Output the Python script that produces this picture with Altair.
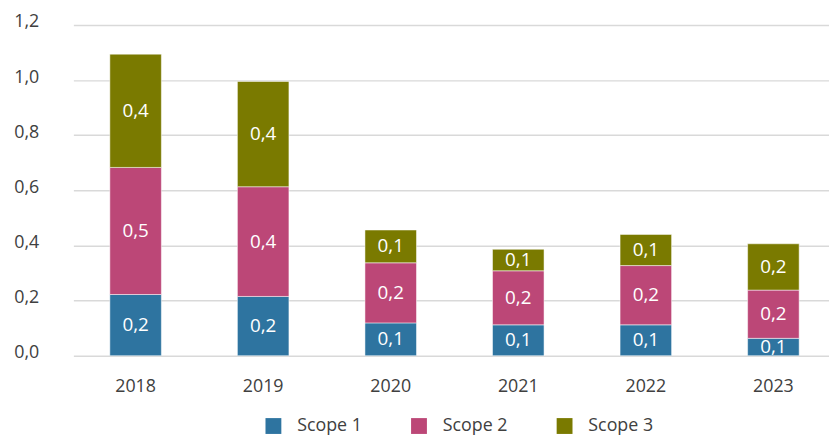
import altair as alt
import pandas as pd

years = ["2018", "2019", "2020", "2021", "2022", "2023"]
series = ["Scope 1", "Scope 2", "Scope 3"]
scope1 = [0.222, 0.215, 0.119, 0.112, 0.112, 0.063]
scope2 = [0.461, 0.398, 0.218, 0.196, 0.215, 0.175]
scope3 = [0.411, 0.382, 0.119, 0.078, 0.113, 0.168]
colors = ["#2E74A0", "#BC4777", "#7A7A00"]
y_ticks = [0.0, 0.2, 0.4, 0.6, 0.8, 1.0, 1.2]

rows = []
for i, y in enumerate(years):
    for k, (name, vals) in enumerate(zip(series, [scope1, scope2, scope3])):
        rows.append({"year": y, "series": name, "value": vals[i], "order": k})
df = pd.DataFrame(rows)

FONT = "Open Sans"

base = alt.Chart(df).transform_stack(
    stack="value", groupby=["year"], as_=["y0", "y1"],
    sort=[alt.SortField("order", order="ascending")]
).transform_calculate(
    mid="(datum.y0 + datum.y1) / 2",
    label="replace(format(datum.value, '.1f'), '.', ',')"
)

x_enc = alt.X("year:N", sort=years, title=None,
              scale=alt.Scale(paddingInner=0.596, paddingOuter=0.26, align=0.55),
              axis=alt.Axis(labelAngle=0, ticks=False, domain=False, labelPadding=22,
                            labelFont=FONT, labelFontSize=18, labelColor="#404040"))

bars = base.mark_bar(stroke="white", strokeWidth=1, strokeOpacity=0.5).encode(
    x=x_enc,
    y=alt.Y("y0:Q", title=None,
            scale=alt.Scale(domain=[0, 1.2], nice=False),
            axis=alt.Axis(values=y_ticks, ticks=False, domain=False, labelPadding=35,
                          labelBaseline="middle", labelOffset=-3,
                          labelExpr="replace(format(datum.value, '.1f'), '.', ',')",
                          labelFont=FONT, labelFontSize=18, labelColor="#404040",
                          gridColor="#D9D9D9", gridWidth=1.5)),
    y2="y1:Q",
    color=alt.Color("series:N",
                    scale=alt.Scale(domain=series, range=colors),
                    legend=alt.Legend(title=None, orient="none", direction="horizontal",
                                      legendX=193, legendY=396, symbolType="square",
                                      symbolSize=256, symbolStrokeWidth=0,
                                      labelFont=FONT, labelFontSize=18, labelColor="#404040",
                                      labelOffset=15, columnPadding=48, padding=0)),
)

labels = base.mark_text(color="white", font=FONT, fontSize=19, baseline="middle").encode(
    x=alt.X("year:N", sort=years),
    y=alt.Y("mid:Q"),
    text="label:N",
)

chart = alt.layer(bars, labels).properties(
    width=763, height=334,
    autosize=alt.AutoSizeParams(type="none"),
    padding={"left": 66, "top": 15, "right": 0, "bottom": 80},
).configure_view(stroke=None)

chart.save("out.html", embed_options={"renderer": "svg", "actions": False})
